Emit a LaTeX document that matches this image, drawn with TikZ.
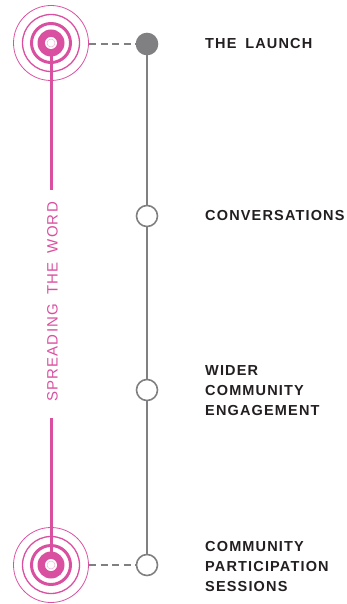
\documentclass[tikz,border=0pt]{standalone}
\usepackage{fontspec}
\setmainfont{Liberation Sans}
\newfontfamily\labelFont[LetterSpace=8,WordSpace=1.2]{Liberation Sans}
\newfontfamily\spreadFont[LetterSpace=8,WordSpace=1.7]{Liberation Sans}
\usepackage{xcolor}
\usetikzlibrary{positioning}
\definecolor{wordPink}{RGB}{217,80,160}
\definecolor{lineGray}{RGB}{128,128,130}
\definecolor{labelInk}{RGB}{35,31,32}
\tikzset{
    stageDot/.style={
        circle,
        draw=lineGray,
        line width=1.6pt,
        fill=white,
        minimum size=21pt,
        inner sep=0pt
    },
    stageLabel/.style={
        anchor=west,
        align=left,
        text=labelInk,
        inner sep=0pt,
        font=\labelFont\fontsize{14.5}{20}\selectfont\bfseries
    },
    linkDashed/.style={
        lineGray,
        line width=1.3pt,
        dash pattern=on 7pt off 4.5pt
    }
}
% pink "broadcast" target
\newcommand{\wordTarget}[1]{%
    \draw[wordPink,line width=0.8pt] (#1) circle (37.5);
    \draw[wordPink,line width=1.3pt] (#1) circle (28.5);
    \draw[wordPink,line width=3pt] (#1) circle (19.5);
    \fill[wordPink] (#1) circle (13.5);
    \fill[white] (#1) circle (6);
    \draw[wordPink!45,line width=0.5pt] (#1) circle (4);
}

\begin{document}
\begin{tikzpicture}[x=1pt,y=1pt]
    \useasboundingbox (0,0) rectangle (346,-604);

    \coordinate (topTarget) at (51,-43);
    \coordinate (botTarget) at (51,-565);

    % timeline
    \node[stageDot,fill=lineGray] (launch) at (147,-44) {};
    \node[stageDot] (talks) at (147,-216) {};
    \node[stageDot] (wider) at (147,-390) {};
    \node[stageDot] (sessions) at (147,-565) {};

    \draw[lineGray,line width=1.6pt] (launch) -- (talks);
    \draw[lineGray,line width=1.6pt] (talks) -- (wider);
    \draw[lineGray,line width=1.6pt] (wider) -- (sessions);

    % spreading the word
    \node[anchor=base,rotate=90,inner sep=0pt,text=wordPink,
          font=\spreadFont\fontsize{15}{18}\selectfont]
        (spread) at (57.5,-302) {SPREADING THE WORD};
    \coordinate (pinkTopEnd) at (51,-190);
    \coordinate (pinkBotEnd) at (51,-418);
    \draw[wordPink,line width=3pt] (topTarget) -- (pinkTopEnd);
    \draw[wordPink,line width=3pt] (pinkBotEnd) -- (botTarget);

    \wordTarget{topTarget}
    \wordTarget{botTarget}

    \coordinate (topRim) at (89,-44);
    \coordinate (botRim) at (89,-565);
    \draw[linkDashed] (topRim) -- (launch);
    \draw[linkDashed] (botRim) -- (sessions);

    % labels
    \node[stageLabel] (launchText) at (205,-44) {THE LAUNCH};
    \node[stageLabel] (talksText) at (205,-216) {CONVERSATIONS};
    \node[stageLabel] (widerText) at (205,-391) {WIDER\\COMMUNITY\\ENGAGEMENT};
    \node[stageLabel] (sessionsText) at (205,-567) {COMMUNITY\\PARTICIPATION\\SESSIONS};
\end{tikzpicture}
\end{document}
